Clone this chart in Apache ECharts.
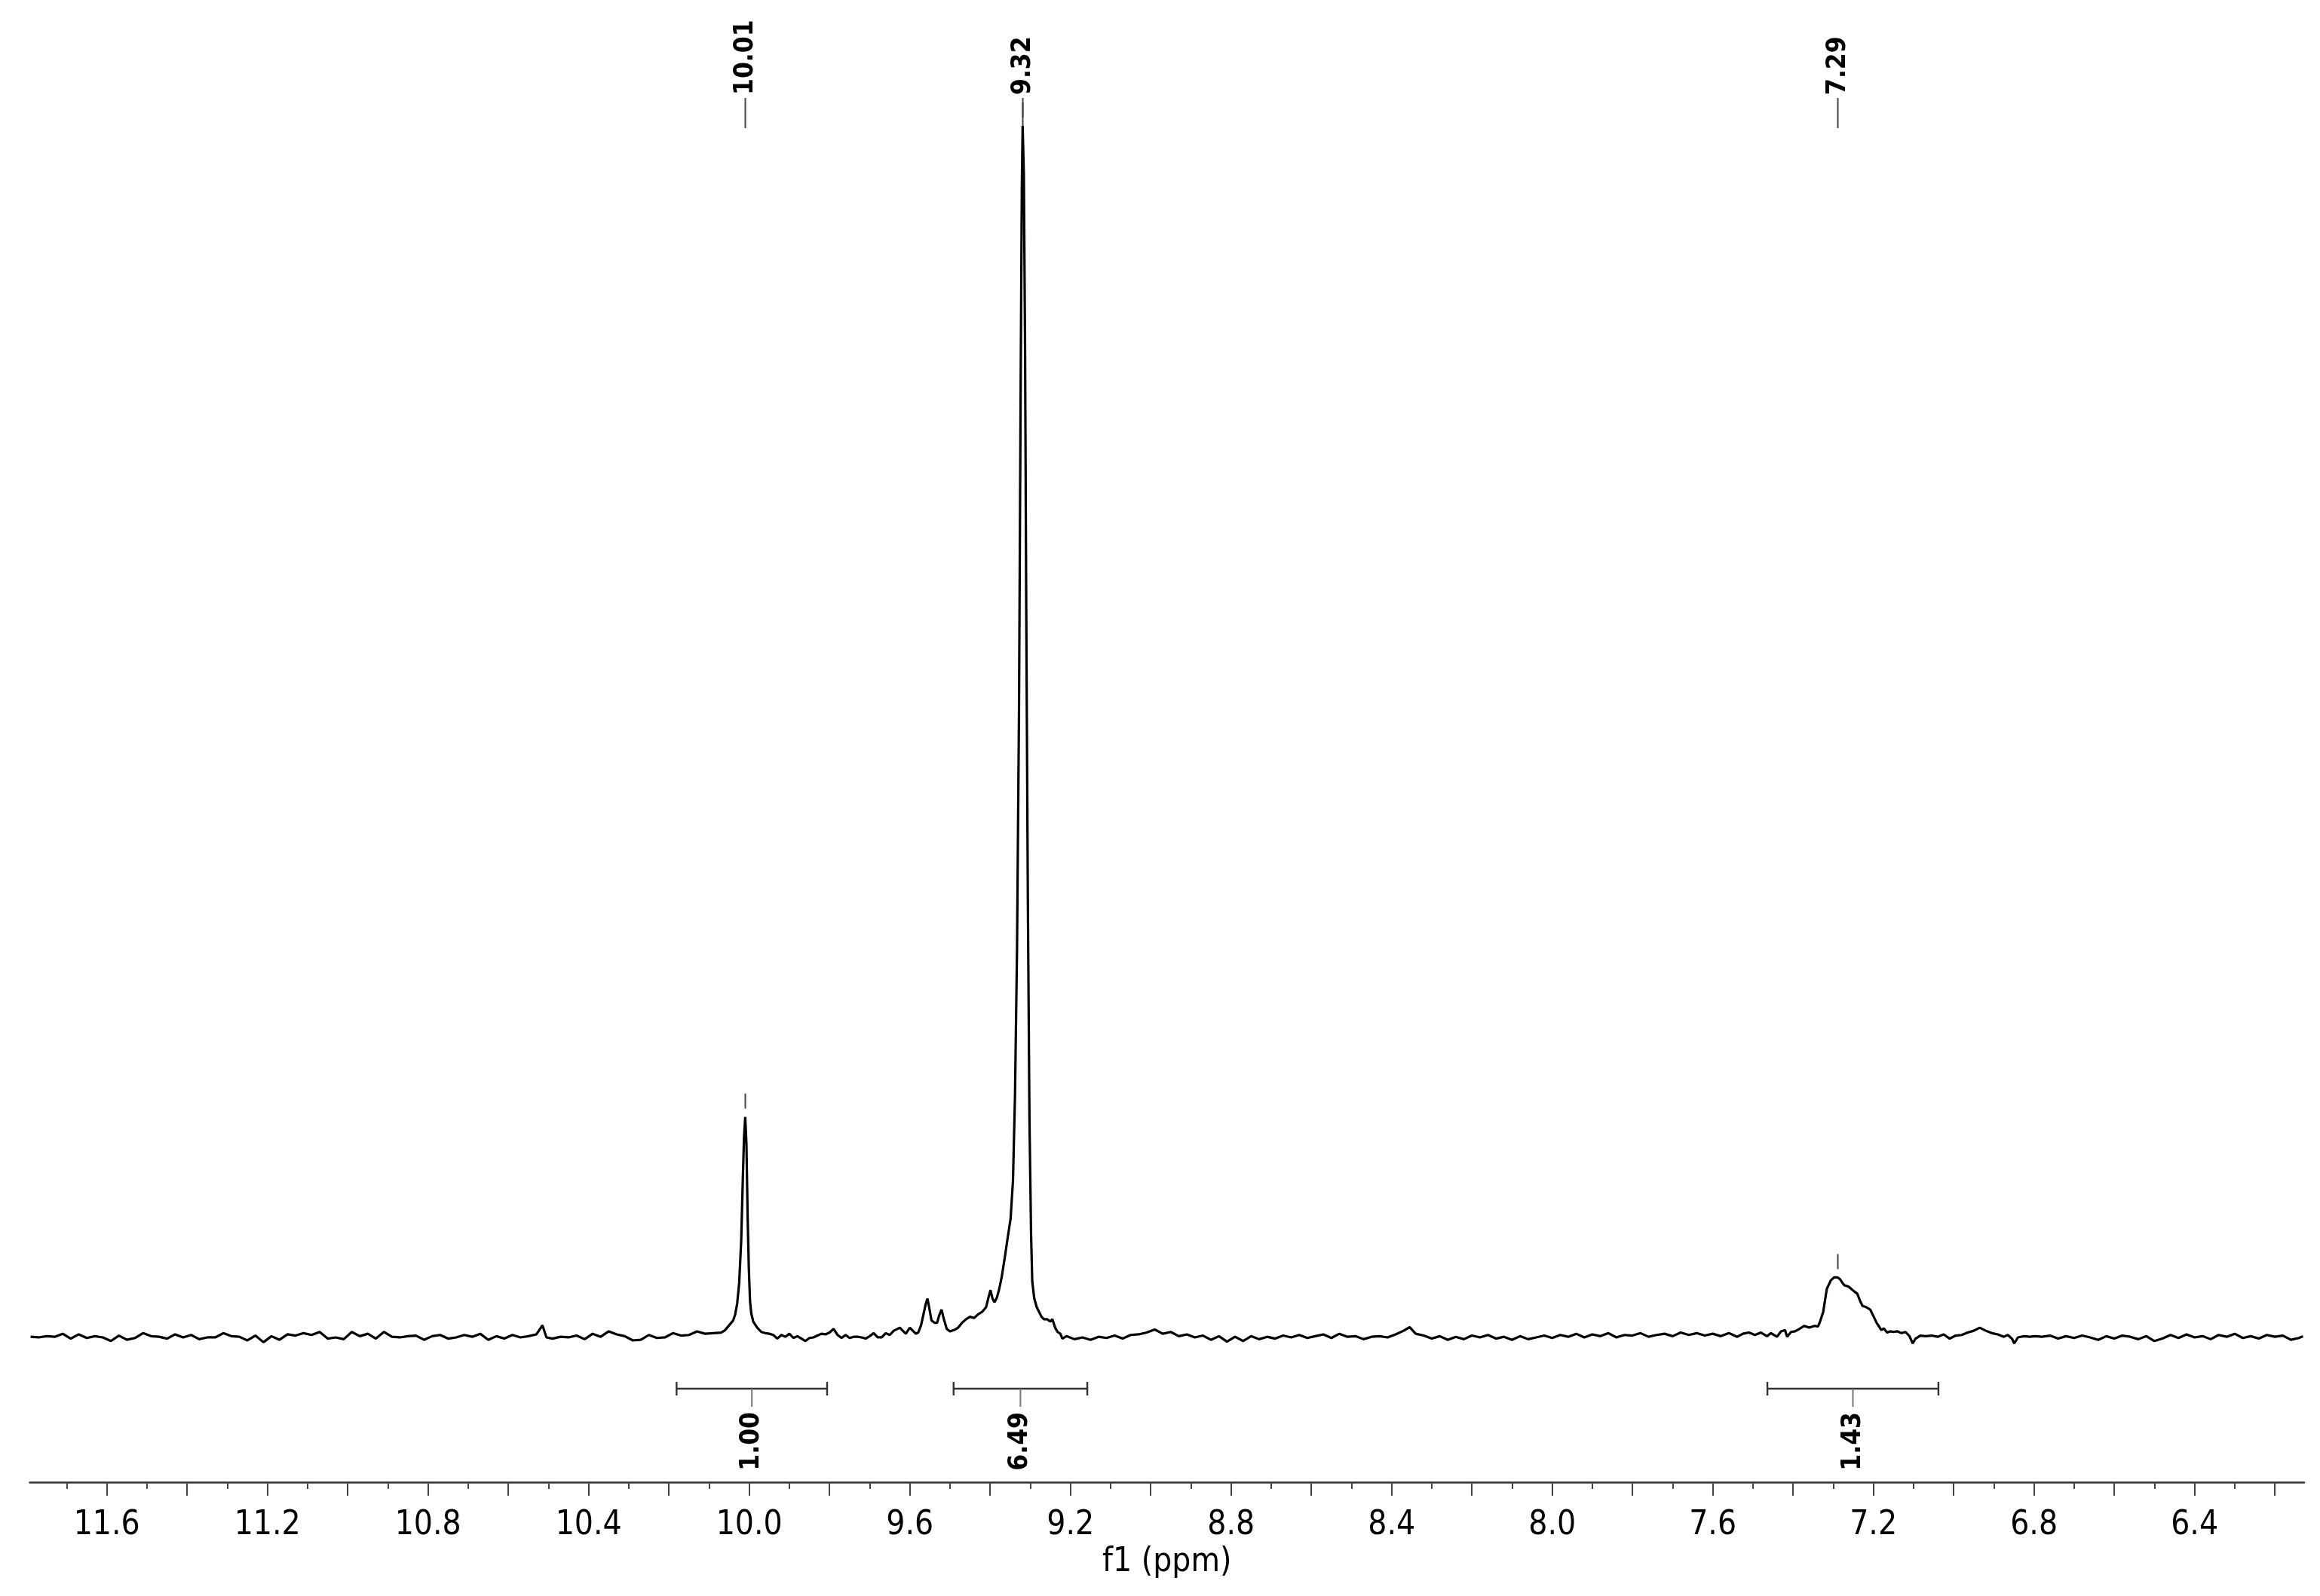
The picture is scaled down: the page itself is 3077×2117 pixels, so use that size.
<!DOCTYPE html>
<html>
<head>
<meta charset="utf-8">
<script src="https://cdn.jsdelivr.net/npm/echarts@6/dist/echarts.min.js"></script>
<style>
html,body{margin:0;padding:0;background:#fff;}
#chart{width:3077px;height:2117px;}
</style>
</head>
<body>
<div id="chart"></div>
<script>
// ---------- DATA ----------
// spectrum segments: [ppm, intensity] (intensity: 0 = baseline, 100 = tallest peak)
const baselineLeft = [
 [11.79,0.05],[11.77,0.0],[11.75,0.1],[11.73,0.05],[11.71,0.3],[11.69,-0.1],[11.67,0.25],[11.65,-0.05],
 [11.63,0.1],[11.61,0.0],[11.59,-0.3],[11.57,0.15],[11.55,-0.2],[11.53,-0.05],[11.51,0.35],[11.49,0.1],
 [11.47,0.05],[11.45,-0.1],[11.43,0.25],[11.41,0.0],[11.39,0.2],[11.37,-0.15],[11.35,0.0],[11.33,0.0],
 [11.31,0.35],[11.29,0.1],[11.27,0.05],[11.25,-0.25],[11.23,0.15],[11.21,-0.4],[11.19,0.1],[11.17,-0.2],
 [11.15,0.25],[11.13,0.15],[11.11,0.35],[11.09,0.2],[11.07,0.45],[11.05,-0.1],[11.03,0.0],[11.01,-0.15],
 [10.99,0.45],[10.97,0.1],[10.95,0.3],[10.93,-0.1],[10.91,0.45],[10.89,0.05],[10.87,0.0],[10.85,0.1],
 [10.83,0.15],[10.81,-0.2],[10.79,0.1],[10.77,0.2],[10.75,-0.1],[10.73,0.0],[10.71,0.2],[10.69,0.05],
 [10.67,0.3],[10.65,-0.2],[10.63,0.1],[10.61,-0.1],[10.59,0.2],[10.57,0.0],[10.55,0.1],[10.53,0.25],
 [10.515,1.0],[10.505,0.0],[10.49,-0.1],[10.47,0.05],[10.45,0.0],[10.43,0.15],[10.41,-0.15],[10.39,0.3],
 [10.37,0.05],[10.35,0.5],[10.33,0.25],[10.31,0.1],[10.29,-0.25],[10.27,-0.2],[10.25,0.2],[10.23,-0.05],
 [10.21,0.0],[10.19,0.35],[10.17,0.15],[10.15,0.2],[10.13,0.5],[10.11,0.3],[10.09,0.35]
];
const peak1001 = [
 [10.07,0.4],[10.06,0.6],[10.05,1.0],[10.04,1.4],[10.035,1.9],[10.03,2.8],[10.025,4.5],[10.02,8],
 [10.016,13],[10.013,16.5],[10.01,18.2],[10.007,16],[10.004,10],[10.001,5.7],[9.998,3.0],[9.995,2.0],
 [9.99,1.3],[9.98,0.8],[9.97,0.45],[9.96,0.35]
];
const baselineMid1 = [
 [9.95,0.3],[9.94,0.2],[9.93,-0.1],[9.92,0.2],[9.91,0.05],[9.90,0.3],[9.89,-0.05],[9.88,0.1],
 [9.87,-0.1],[9.86,-0.3],[9.85,-0.05],[9.84,0.0],[9.83,0.15],[9.82,0.3],[9.81,0.25],[9.80,0.4],
 [9.79,0.7],[9.78,0.2],[9.77,-0.05],[9.76,0.2],[9.75,-0.05],[9.74,0.05],[9.73,0.05],[9.72,0.0],
 [9.71,-0.1],[9.70,0.1],[9.69,0.35],[9.68,0.0],[9.67,0.0],[9.66,0.35],[9.65,0.2],[9.64,0.55],
 [9.625,0.8],[9.61,0.3],[9.60,0.8],[9.585,0.3]
];
const peak932 = [
 [9.579,0.4],[9.572,1.0],[9.566,1.9],[9.56,2.8],[9.556,3.2],[9.552,2.5],[9.546,1.4],[9.538,1.2],
 [9.532,1.2],[9.527,1.8],[9.521,2.3],[9.516,1.6],[9.508,0.7],[9.50,0.5],[9.49,0.6],[9.48,0.8],
 [9.47,1.2],[9.46,1.5],[9.45,1.7],[9.44,1.6],[9.43,1.9],[9.42,2.1],[9.41,2.5],[9.404,3.3],
 [9.399,3.9],[9.394,3.2],[9.389,2.9],[9.383,3.3],[9.378,3.9],[9.371,5.0],[9.363,6.7],[9.355,8.5],
 [9.349,9.8],[9.343,13],[9.338,20],[9.333,32],[9.328,52],[9.324,78],[9.321,95],[9.319,100],
 [9.316,96],[9.313,82],[9.31,60],[9.306,36],[9.302,18],[9.298,8.5],[9.295,4.6],[9.29,3.2],
 [9.284,2.5],[9.278,2.1],[9.272,1.7],[9.266,1.5],[9.258,1.5],[9.25,1.3],[9.245,1.5],[9.238,0.8],
 [9.232,0.45],[9.225,0.3],[9.22,-0.1]
];
const baselineMid2 = [
 [9.21,0.1],[9.19,-0.15],[9.17,0.0],[9.15,-0.2],[9.13,0.05],[9.11,-0.05],[9.09,0.15],[9.07,-0.1],
 [9.05,0.2],[9.03,0.25],[9.01,0.4],[8.99,0.65],[8.97,0.3],[8.95,0.45],[8.93,0.1],[8.91,0.25],
 [8.89,0.0],[8.87,0.15],[8.85,-0.2],[8.83,0.1],[8.81,-0.35],[8.79,0.05],[8.77,-0.3],[8.75,0.1],
 [8.73,-0.15],[8.71,0.05],[8.69,-0.1],[8.67,0.15],[8.65,0.0],[8.63,0.2],[8.61,-0.05],[8.59,0.1],
 [8.57,0.25],[8.55,-0.05],[8.53,0.3],[8.51,0.05],[8.49,0.1],[8.47,-0.15],[8.45,0.05],[8.43,0.1],
 [8.41,0.0],[8.39,0.25],[8.37,0.55],[8.355,0.85],[8.34,0.3],[8.32,0.15],[8.30,-0.1],[8.28,0.1],
 [8.26,-0.2],[8.24,0.05],[8.22,-0.15],[8.20,0.15],[8.18,0.0],[8.16,0.2],[8.14,-0.1],[8.12,0.05],
 [8.10,-0.2],[8.08,0.1],[8.06,-0.15],[8.04,0.0],[8.02,0.15],[8.00,-0.05],[7.98,0.2],[7.96,0.05],
 [7.94,0.3],[7.92,0.0],[7.90,0.25],[7.88,0.1],[7.86,0.35],[7.84,0.0],[7.82,0.2],[7.80,0.15],
 [7.78,0.35],[7.76,0.05],[7.74,0.2],[7.72,0.3],[7.70,0.1],[7.68,0.4],[7.66,0.2],[7.64,0.35],
 [7.62,0.15],[7.60,0.3],[7.58,0.1],[7.56,0.35]
];
const peak729 = [
 [7.539,0.05],[7.525,0.3],[7.51,0.4],[7.495,0.2],[7.48,0.4],[7.465,0.1],[7.455,0.35],[7.44,0.05],
 [7.43,0.5],[7.42,0.6],[7.415,0.05],[7.405,0.45],[7.395,0.5],[7.384,0.7],[7.372,0.95],[7.36,0.8],
 [7.347,0.95],[7.338,0.9],[7.334,1.2],[7.325,2.1],[7.316,4.0],[7.306,4.7],[7.298,4.95],[7.289,4.95],
 [7.283,4.8],[7.277,4.5],[7.272,4.3],[7.262,4.2],[7.255,4.0],[7.248,3.8],[7.24,3.6],[7.233,3.0],
 [7.227,2.6],[7.218,2.5],[7.208,2.3],[7.199,1.7],[7.192,1.2],[7.186,0.9],[7.18,0.6],[7.174,0.75],
 [7.166,0.4],[7.158,0.5],[7.15,0.45],[7.14,0.5],[7.13,0.35],[7.12,0.45],[7.11,0.1],[7.102,-0.5],
 [7.095,-0.1],[7.083,0.15],[7.07,0.1],[7.055,0.15],[7.04,0.05],[7.025,0.25],[7.01,-0.1],[6.995,0.15],
 [6.98,0.2],[6.965,0.4],[6.95,0.55],[6.935,0.8],[6.92,0.55],[6.905,0.35],[6.89,0.25],[6.875,0.05],
 [6.865,0.2],[6.855,-0.1],[6.849,-0.5],[6.84,0.0],[6.825,0.1],[6.81,0.05],[6.797,0.1]
];
const baselineRight = [
 [6.78,0.05],[6.76,0.15],[6.74,-0.1],[6.72,0.1],[6.70,-0.05],[6.68,0.15],[6.66,0.0],[6.64,-0.2],
 [6.62,0.1],[6.60,-0.1],[6.58,0.15],[6.56,0.05],[6.54,-0.15],[6.52,0.1],[6.50,-0.3],[6.48,-0.1],
 [6.46,0.2],[6.44,-0.05],[6.42,0.25],[6.40,0.0],[6.38,0.1],[6.36,-0.15],[6.34,0.2],[6.32,0.05],
 [6.30,0.3],[6.28,-0.05],[6.26,0.1],[6.24,-0.1],[6.22,0.2],[6.20,0.05],[6.18,0.15],[6.16,-0.2],
 [6.14,-0.05],[6.13,0.1]
];

// peak picking
const peakPpm = [10.01, 9.32, 7.29];
const peakLabels = ['10.01', '9.32', '7.29'];
const peakIntensity = [18.2, 100, 4.95];

// integrals
const integralFrom = [10.181, 9.491, 7.464];
const integralTo = [9.806, 9.158, 7.038];
const integralLabels = ['1.00', '6.49', '1.43'];

// axis ticks / labels (ppm)
const tickLabelValues = [11.6, 11.2, 10.8, 10.4, 10.0, 9.6, 9.2, 8.8, 8.4, 8.0, 7.6, 7.2, 6.8, 6.4];
const majorTickValues = [11.6, 11.4, 11.2, 11.0, 10.8, 10.6, 10.4, 10.2, 10.0, 9.8, 9.6, 9.4, 9.2, 9.0,
  8.8, 8.6, 8.4, 8.2, 8.0, 7.8, 7.6, 7.4, 7.2, 7.0, 6.8, 6.6, 6.4, 6.2];
const minorTickValues = [11.7, 11.5, 11.3, 11.1, 10.9, 10.7, 10.5, 10.3, 10.1, 9.9, 9.7, 9.5, 9.3, 9.1,
  8.9, 8.7, 8.5, 8.3, 8.1, 7.9, 7.7, 7.5, 7.3, 7.1, 6.9, 6.7, 6.5, 6.3];
const axisTitle = 'f1 (ppm)';

// ---------- LAYOUT ----------
const FONT = '"DejaVu Sans Condensed", "DejaVu Sans", sans-serif';
const X_MIN = 6.127, X_MAX = 11.792;
const Y_MIN = -11.95, Y_MAX = 110.39;
const LABEL_BASE_Y = 126, LEADER_TOP = 130, LEADER_BOTTOM = 170;
const INTEGRAL_Y = 1842, INTEGRAL_CAP = 9, INTEGRAL_DROP = 24, INTEGRAL_LABEL_TOP = 1873;

const spectrum = [].concat(baselineLeft, peak1001, baselineMid1, peak932, baselineMid2, peak729, baselineRight);

const chart = echarts.init(document.getElementById('chart'), null, {renderer: 'canvas'});

const option = {
  animation: false,
  backgroundColor: '#ffffff',
  grid: {left: 39.5, right: 21, top: 0, bottom: 151, outerBoundsMode: 'none'},
  xAxis: [
    {
      type: 'value', gridIndex: 0, position: 'bottom', inverse: true,
      min: X_MIN, max: X_MAX,
      splitLine: {show: false},
      axisLine: {show: true, onZero: false, lineStyle: {color: '#333', width: 2.5}},
      axisTick: {show: true, length: 18, lineStyle: {color: '#444', width: 2}, customValues: majorTickValues},
      axisLabel: {
        show: true, margin: 36, fontSize: 44, fontFamily: FONT, color: '#000',
        customValues: tickLabelValues,
        formatter: v => Number(v).toFixed(1)
      },
      name: axisTitle, nameLocation: 'middle', nameGap: 82,
      nameTextStyle: {fontSize: 44, fontFamily: FONT, color: '#000'}
    },
    {
      type: 'value', gridIndex: 0, position: 'bottom', inverse: true,
      min: X_MIN, max: X_MAX,
      splitLine: {show: false},
      axisLine: {show: false, onZero: false},
      axisTick: {show: true, length: 9, lineStyle: {color: '#444', width: 2}, customValues: minorTickValues},
      axisLabel: {show: false}
    }
  ],
  yAxis: {type: 'value', min: Y_MIN, max: Y_MAX, show: false, splitLine: {show: false}},
  series: [
    {
      type: 'line', xAxisIndex: 0, yAxisIndex: 0,
      data: spectrum, showSymbol: false, symbol: 'none',
      lineStyle: {color: '#000', width: 3.2}, silent: true
    },
    {
      type: 'custom', xAxisIndex: 0, yAxisIndex: 0, silent: true,
      data: peakPpm.map((p, i) => [p, peakIntensity[i]]),
      renderItem: function (params, api) {
        const i = params.dataIndex;
        const top = api.coord([api.value(0), api.value(1)]);
        const x = Math.round(top[0]) + 0.5;
        return {
          type: 'group',
          children: [
            {type: 'text', x: x, y: LABEL_BASE_Y, rotation: Math.PI / 2,
             style: {text: peakLabels[i], fill: '#000', align: 'left', verticalAlign: 'middle',
                     font: 'bold 35px ' + FONT}},
            {type: 'line', shape: {x1: x, y1: LEADER_TOP, x2: x, y2: LEADER_BOTTOM},
             style: {stroke: '#444', lineWidth: 2}},
            {type: 'line', shape: {x1: x, y1: top[1] - 31, x2: x, y2: top[1] - 11},
             style: {stroke: '#444', lineWidth: 2}}
          ]
        };
      }
    },
    {
      type: 'custom', xAxisIndex: 0, yAxisIndex: 0, silent: true,
      data: integralFrom.map((f, i) => [f, integralTo[i]]),
      renderItem: function (params, api) {
        const i = params.dataIndex;
        const xa = api.coord([api.value(0), 0])[0];
        const xb = api.coord([api.value(1), 0])[0];
        const xc = (xa + xb) / 2;
        return {
          type: 'group',
          children: [
            {type: 'line', shape: {x1: xa, y1: INTEGRAL_Y, x2: xb, y2: INTEGRAL_Y},
             style: {stroke: '#333', lineWidth: 2.4}},
            {type: 'line', shape: {x1: xa, y1: INTEGRAL_Y - INTEGRAL_CAP, x2: xa, y2: INTEGRAL_Y + INTEGRAL_CAP},
             style: {stroke: '#333', lineWidth: 2.4}},
            {type: 'line', shape: {x1: xb, y1: INTEGRAL_Y - INTEGRAL_CAP, x2: xb, y2: INTEGRAL_Y + INTEGRAL_CAP},
             style: {stroke: '#333', lineWidth: 2.4}},
            {type: 'line', shape: {x1: xc, y1: INTEGRAL_Y, x2: xc, y2: INTEGRAL_Y + INTEGRAL_DROP},
             style: {stroke: '#777', lineWidth: 2}},
            {type: 'text', x: xc, y: INTEGRAL_LABEL_TOP, rotation: Math.PI / 2,
             style: {text: integralLabels[i], fill: '#000', align: 'right', verticalAlign: 'middle',
                     font: 'bold 35px ' + FONT}}
          ]
        };
      }
    }
  ]
};
chart.setOption(option);
</script>
</body>
</html>
